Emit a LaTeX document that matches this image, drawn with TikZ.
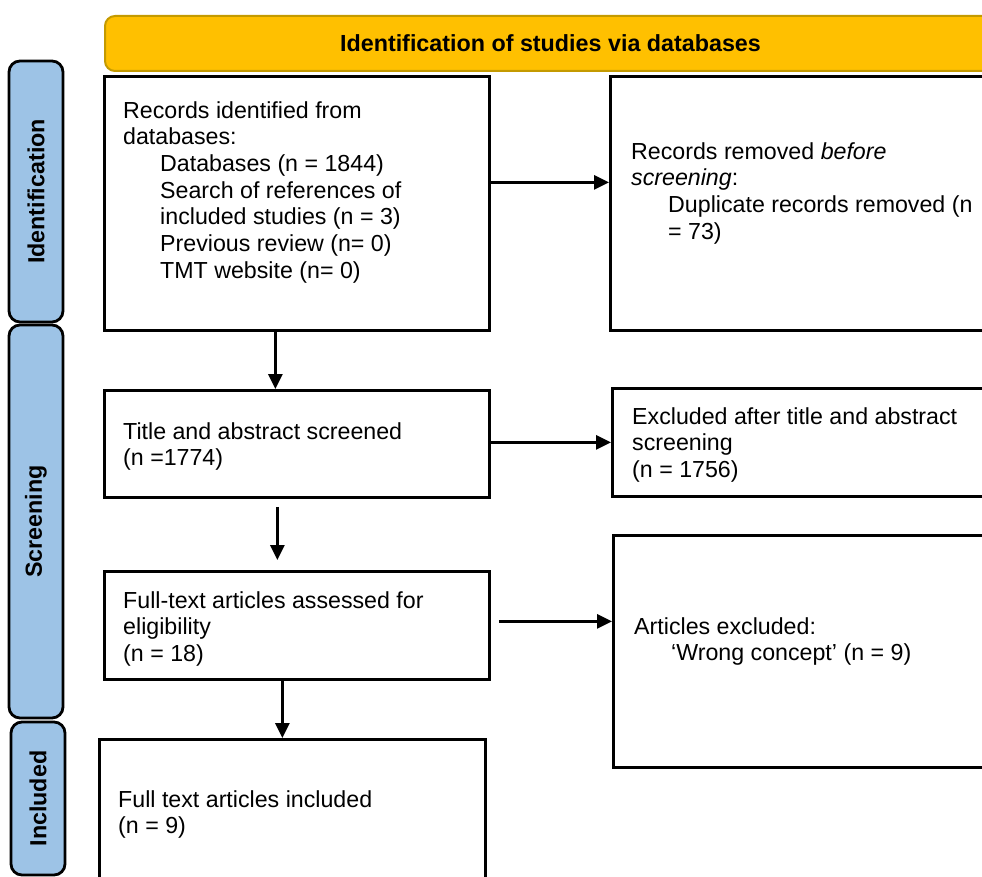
\documentclass[tikz,border=0pt]{standalone}
\usepackage{fontspec}
\setmainfont{Liberation Sans}
\usetikzlibrary{positioning,arrows.meta}
\definecolor{phaseblue}{HTML}{9DC3E6}
\definecolor{bannergold}{HTML}{FFC000}
\definecolor{bannerline}{HTML}{C49A00}
\newcommand{\ind}{\hspace*{37pt}}
\tikzset{
  box/.style={draw,line width=2.8pt,inner sep=0pt,anchor=north west},
  txt/.style={inner sep=0pt,align=left,anchor=north west},
  phase/.style={draw,line width=2.8pt,fill=phaseblue,rounded corners=11pt,rotate=90,
    minimum height=54pt,font=\fontsize{23.3}{26.7}\bfseries\selectfont},
  arr/.style={->,line width=2.8pt},
}

\begin{document}
\begin{tikzpicture}[x=1pt,y=-1pt,>={Triangle[length=15pt,width=14pt]},font=\fontsize{23.2}{26.7}\selectfont]
  \useasboundingbox (0,0) rectangle (982,877);
  \clip (0,0) rectangle (982,877);

  \node[draw=bannerline,line width=2pt,fill=bannergold,rounded corners=10pt,anchor=north west,
    minimum width=891pt,minimum height=55pt,font=\fontsize{23.3}{26.7}\bfseries\selectfont]
    (banner) at (104,15) {Identification of studies via databases};

  \node[phase,minimum width=261pt] (phIdent) at (36,191.5) {Identification};
  \node[phase,minimum width=393pt] (phScreen) at (36,521.5) {Screening};
  \node[phase,minimum width=153pt] (phIncl) at (38,798.5) {Included};

  \node[box,minimum width=385pt,minimum height=254pt] (ident) at (103,75) {};
  \node[box,minimum width=386pt,minimum height=254pt] (dup) at (609,75) {};
  \node[box,minimum width=385pt,minimum height=107pt] (tiab) at (103,389) {};
  \node[box,minimum width=384pt,minimum height=108pt] (tiabex) at (611,387) {};
  \node[box,minimum width=385pt,minimum height=108pt] (ft) at (103,570) {};
  \node[box,minimum width=383pt,minimum height=232pt] (ftex) at (612,534) {};
  \node[box,minimum width=386pt,minimum height=152pt] (incl) at (98,738) {};

  \node[txt,below right=26pt and 20pt of ident.north west] (identTxt)
    {Records identified from\\databases:\\
     \ind Databases (n = 1844)\\\ind Search of references of\\\ind included studies (n = 3)\\
     \ind Previous review (n= 0)\\\ind TMT website (n= 0)};
  \node[txt,below right=67pt and 22pt of dup.north west] (dupTxt)
    {Records removed \emph{before}\\\emph{screening}:\\
     \ind Duplicate records removed (n\\\ind = 73)};
  \node[txt,below right=33pt and 20pt of tiab.north west] (tiabTxt)
    {Title and abstract screened\\(n =1774)};
  \node[txt,below right=20pt and 21pt of tiabex.north west] (tiabexTxt)
    {Excluded after title and abstract\\screening\\(n = 1756)};
  \node[txt,below right=21pt and 20pt of ft.north west] (ftTxt)
    {Full-text articles assessed for\\eligibility\\(n = 18)};
  \node[txt,below right=83pt and 22pt of ftex.north west] (ftexTxt)
    {Articles excluded:\\\ind ‘Wrong concept’ (n = 9)};
  \node[txt,below right=52pt and 20pt of incl.north west] (inclTxt)
    {Full text articles included\\(n = 9)};

  \draw[arr] ([yshift=21pt]ident.east) -- ([yshift=21pt]ident.east -| dup.west);
  \draw[arr] ([xshift=-21.5pt]ident.south) -- ([xshift=-21.5pt]ident.south |- tiab.north);
  \draw[arr] ([yshift=1.5pt]tiab.east) -- ([yshift=1.5pt]tiab.east -| tiabex.west);
  \draw[arr,shorten <=8pt,shorten >=10pt] ([xshift=-19.5pt]tiab.south) -- ([xshift=-19.5pt]tiab.south |- ft.north);
  \draw[arr] ([xshift=8pt,yshift=4pt]ft.east) -- ([yshift=4pt]ft.east -| ftex.west);
  \draw[arr] ([xshift=-14.5pt]ft.south) -- ([xshift=-14.5pt]ft.south |- incl.north);
\end{tikzpicture}
\end{document}
